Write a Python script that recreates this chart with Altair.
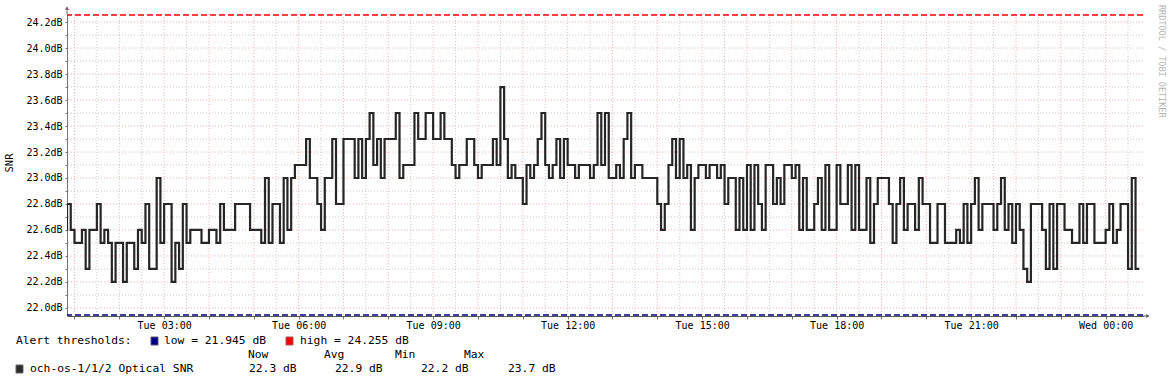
import altair as alt
import pandas as pd

# ---------------- data ----------------
# minutes after Tue 00:00 at which the 5-minute SNR samples change value
times = [45, 50, 55, 60, 70, 75, 80, 90, 95, 100,
         105, 110, 115, 125, 130, 140, 145, 150, 155, 160,
         170, 175, 180, 190, 195, 200, 205, 210, 215, 230,
         240, 250, 255, 260, 275, 295, 310, 315, 320, 325,
         335, 340, 345, 350, 355, 370, 375, 385, 390, 395,
         405, 410, 420, 435, 440, 445, 450, 455, 460, 465,
         470, 475, 490, 495, 500, 515, 520, 530, 540, 550,
         555, 565, 570, 575, 585, 595, 600, 605, 620, 625,
         630, 635, 640, 645, 650, 660, 665, 670, 675, 680,
         685, 690, 695, 700, 705, 710, 715, 720, 730, 735,
         750, 755, 760, 765, 770, 775, 785, 790, 795, 800,
         805, 810, 820, 840, 845, 850, 855, 860, 865, 870,
         875, 880, 885, 890, 895, 905, 910, 920, 925, 930,
         935, 945, 950, 955, 960, 965, 970, 975, 980, 985,
         995, 1000, 1005, 1010, 1020, 1025, 1030, 1035, 1040, 1050,
         1055, 1060, 1065, 1070, 1080, 1085, 1095, 1100, 1105, 1110,
         1120, 1125, 1130, 1135, 1150, 1155, 1160, 1165, 1170, 1175,
         1185, 1190, 1195, 1205, 1215, 1225, 1240, 1245, 1250, 1255,
         1260, 1265, 1270, 1275, 1290, 1295, 1300, 1305, 1310, 1315,
         1320, 1325, 1330, 1335, 1340, 1355, 1360, 1365, 1370, 1375,
         1385, 1395, 1405, 1410, 1415, 1425, 1440, 1445, 1450, 1455,
         1460, 1470, 1475, 1480, 1485]
snr = [22.6, 22.8, 22.6, 22.5, 22.6, 22.3, 22.6, 22.8, 22.5, 22.6,
       22.5, 22.2, 22.5, 22.2, 22.5, 22.3, 22.6, 22.5, 22.8, 22.3,
       23.0, 22.5, 22.8, 22.2, 22.5, 22.3, 22.8, 22.5, 22.6, 22.5,
       22.6, 22.5, 22.8, 22.6, 22.8, 22.6, 22.5, 23.0, 22.5, 22.8,
       22.5, 23.0, 22.6, 23.0, 23.1, 23.3, 23.0, 22.8, 22.6, 23.0,
       23.3, 22.8, 23.3, 23.0, 23.3, 23.0, 23.3, 23.5, 23.1, 23.3,
       23.0, 23.3, 23.5, 23.0, 23.1, 23.5, 23.3, 23.5, 23.3, 23.5,
       23.3, 23.1, 23.0, 23.1, 23.3, 23.1, 23.0, 23.1, 23.3, 23.1,
       23.7, 23.3, 23.0, 23.1, 23.0, 22.8, 23.1, 23.0, 23.1, 23.3,
       23.5, 23.1, 23.0, 23.1, 23.3, 23.0, 23.3, 23.1, 23.0, 23.1,
       23.0, 23.1, 23.5, 23.1, 23.5, 23.0, 23.1, 23.0, 23.3, 23.5,
       23.0, 23.1, 23.0, 22.8, 22.6, 22.8, 23.1, 23.3, 23.0, 23.3,
       23.0, 23.1, 22.6, 23.0, 23.1, 23.0, 23.1, 23.0, 23.1, 22.8,
       23.0, 22.6, 23.0, 22.6, 23.1, 22.6, 23.1, 22.8, 22.6, 23.1,
       22.8, 23.0, 22.8, 23.1, 23.0, 23.1, 22.6, 23.0, 22.6, 22.8,
       23.0, 22.6, 23.1, 22.6, 23.1, 22.8, 23.1, 22.6, 23.1, 22.6,
       23.0, 22.5, 22.8, 23.0, 22.8, 22.5, 22.8, 23.0, 22.6, 22.8,
       22.6, 23.0, 22.8, 22.5, 22.8, 22.5, 22.6, 22.5, 22.8, 22.5,
       22.8, 23.0, 22.6, 22.8, 22.6, 22.8, 23.0, 22.6, 22.8, 22.5,
       22.8, 22.6, 22.3, 22.2, 22.8, 22.6, 22.3, 22.8, 22.3, 22.8,
       22.6, 22.5, 22.8, 22.5, 22.8, 22.5, 22.6, 22.8, 22.5, 22.6,
       22.8, 22.3, 23.0, 22.3, 22.3]

thresholds = [24.255, 21.945]
threshold_names = ["high", "low"]

y_major = [22.0, 22.2, 22.4, 22.6, 22.8, 23.0, 23.2, 23.4, 23.6, 23.8, 24.0, 24.2]
y_minor = [22.1, 22.3, 22.5, 22.7, 22.9, 23.1, 23.3, 23.5, 23.7, 23.9, 24.1]
x_major = [60 * h for h in range(1, 25)]            # every hour
x_minor = [60 * h + 30 for h in range(1, 25)]       # every half hour
x_label_vals = [180, 360, 540, 720, 900, 1080, 1260, 1440]
x_labels = ["Tue 03:00", "Tue 06:00", "Tue 09:00", "Tue 12:00",
            "Tue 15:00", "Tue 18:00", "Tue 21:00", "Wed 00:00"]

legend_head = ["Now", "Avg", "Min", "Max"]
legend_vals = ["22.3 dB", "22.9 dB", "22.2 dB", "23.7 dB"]

# ---------------- layout ----------------
PL, PT = 67, 14
W, H = 1076, 302
MONO = "DejaVu Sans Mono"

xscale = alt.Scale(domain=[50, 1490], nice=False, zero=False)
yscale = alt.Scale(domain=[21.938, 24.262], nice=False, zero=False)

x_expr = " : ".join(f"datum.value == {v} ? '{l}'" for v, l in zip(x_label_vals, x_labels)) + " : ''"
xaxis = alt.Axis(values=x_major, labelExpr=x_expr, grid=False, title=None,
                 tickSize=3, tickColor="#777777", domainColor="#555555",
                 labelFont=MONO, labelFontSize=10, labelColor="#000000",
                 labelPadding=1, labelOverlap=False, labelFlush=False)
yaxis = alt.Axis(values=sorted(y_major + y_minor),
                 labelExpr="round(datum.value*10) % 2 == 0 ? format(datum.value, '.1f') + 'dB' : ''",
                 grid=False, title=None, tickSize=2, tickColor="#777777",
                 domainColor="#777777", labelFont=MONO, labelFontSize=10,
                 labelColor="#000000", labelPadding=3, labelOverlap=False)


def X(field):
    return alt.X(field, type="quantitative", scale=xscale, axis=xaxis)


def Y(field):
    return alt.Y(field, type="quantitative", scale=yscale, axis=yaxis)


series = pd.DataFrame({"t": times, "v": snr})

MAJ = dict(color="#f49a9a", strokeDash=[1, 2], strokeWidth=1, opacity=0.75)
MIN = dict(color="#b8b8b8", strokeDash=[1, 2], strokeWidth=1, opacity=0.75)

gy_major = alt.Chart(pd.DataFrame({"v": y_major})).mark_rule(**MAJ).encode(y=Y("v"))
gy_minor = alt.Chart(pd.DataFrame({"v": y_minor})).mark_rule(**MIN).encode(y=Y("v"))
gx_major = alt.Chart(pd.DataFrame({"t": x_major})).mark_rule(**MAJ).encode(x=X("t"))
gx_minor = alt.Chart(pd.DataFrame({"t": x_minor})).mark_rule(**MIN).encode(x=X("t"))

thr = pd.DataFrame({"v": thresholds, "n": threshold_names})
thr_high = alt.Chart(thr).transform_filter("datum.n == 'high'").mark_rule(
    color="#ff0000", strokeDash=[6, 3], strokeWidth=1.5).encode(y=Y("v"))
thr_low = alt.Chart(thr).transform_filter("datum.n == 'low'").mark_rule(
    color="#000080", strokeDash=[6, 3], strokeWidth=1.5).encode(y=Y("v"))

line = alt.Chart(series).mark_line(
    interpolate="step-after", color="#262626", strokeWidth=2.2, clip=True
).encode(x=X("t"), y=Y("v"))

one = alt.Data(values=[{"k": 0}])


def txt(s, px, py, size=11.3, align="left", color="#000000", angle=0):
    return alt.Chart(one).mark_text(
        text=s, font=MONO, fontSize=size, align=align, baseline="middle",
        color=color, angle=angle
    ).encode(x=alt.value(px - PL), y=alt.value(py - PT))


def box(x1, x2, y1, y2, fill, stroke):
    return alt.Chart(one).mark_rect(fill=fill, stroke=stroke, strokeWidth=1).encode(
        x=alt.value(x1 - PL), x2=alt.value(x2 - PL),
        y=alt.value(y1 - PT), y2=alt.value(y2 - PT))


# axis arrow heads
y_ext = alt.Chart(one).mark_rule(color="#777777").encode(
    x=alt.value(0), y=alt.value(-5), y2=alt.value(0))
y_arrow = alt.Chart(one).mark_point(shape="triangle-up", filled=True, size=18,
                                    color="#666666", opacity=1).encode(
    x=alt.value(0), y=alt.value(-6))
x_ext = alt.Chart(one).mark_rule(color="#555555").encode(
    x=alt.value(W), x2=alt.value(W + 4), y=alt.value(H))
x_arrow = alt.Chart(one).mark_point(shape="triangle-right", filled=True, size=18,
                                    color="#666666", opacity=1).encode(
    x=alt.value(W + 5), y=alt.value(H))

texts = [
    txt("SNR", 10, 163, size=10.5, align="center", angle=270),
    txt("RRDTOOL / TOBI OETIKER", 1162, 5, size=8.5, color="#b4b4b4", angle=90),
    txt("Alert thresholds:", 16, 341),
    box(151, 158, 337, 345, "#000080", "#555577"),
    txt("low = 21.945 dB", 164, 341),
    box(286, 293, 337, 345, "#ff0000", "#aa5555"),
    txt("high = 24.255 dB", 300, 341),
    box(16, 23, 365, 373, "#2a2a2a", "#666666"),
    txt("och-os-1/1/2 Optical SNR", 30, 369),
]
head_x = [248, 324, 395, 464]
val_x = [249, 335, 421, 508]
for s, px in zip(legend_head, head_x):
    texts.append(txt(s, px, 355))
for s, px in zip(legend_vals, val_x):
    texts.append(txt(s, px, 369))

chart = alt.layer(
    gy_minor, gx_minor, gy_major, gx_major, thr_high, thr_low, line,
    y_ext, y_arrow, x_ext, x_arrow, *texts
).properties(
    width=W, height=H,
    autosize=alt.AutoSizeParams(type="none"),
    padding={"left": PL, "top": PT, "right": 1172 - PL - W, "bottom": 383 - PT - H},
    background="#ffffff",
).configure_view(stroke=None)

chart.save("out.html", embed_options={"renderer": "svg", "actions": False})
